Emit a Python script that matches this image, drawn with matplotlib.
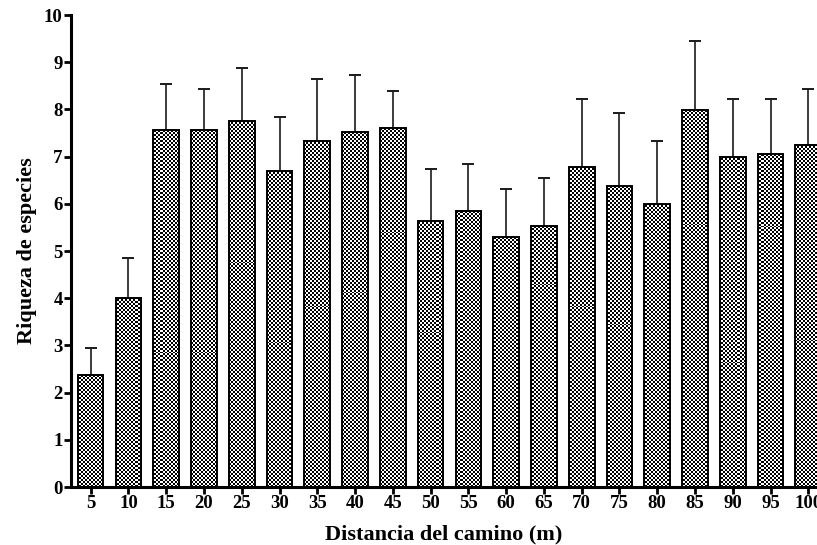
import matplotlib
matplotlib.use("Agg")
import matplotlib.pyplot as plt
import numpy as np

# distancias y riqueza media (+ error superior)
distancias = ["5", "10", "15", "20", "25", "30", "35", "40", "45", "50",
              "55", "60", "65", "70", "75", "80", "85", "90", "95", "100"]
riqueza = [2.37, 4.01, 7.56, 7.56, 7.76, 6.69, 7.32, 7.53, 7.61, 5.63,
           5.85, 5.30, 5.52, 6.77, 6.37, 6.00, 7.99, 6.99, 7.06, 7.24]
error_sup = [2.94, 4.86, 8.53, 8.43, 8.88, 7.84, 8.65, 8.73, 8.38, 6.74,
             6.84, 6.31, 6.54, 8.21, 7.93, 7.34, 9.45, 8.21, 8.21, 8.43]

plt.rcParams['font.family'] = ['Liberation Serif', 'DejaVu Serif']

fig = plt.figure(figsize=(8.17, 5.45), dpi=100)
ax = fig.add_axes([71/817, 58/545, 1 - 71/817, 472/545])

x = np.arange(len(distancias))
err = np.array(error_sup) - np.array(riqueza)

bars = ax.bar(x, riqueza, width=0.68, facecolor='none', edgecolor='black',
              linewidth=1.4, zorder=3)
ax.errorbar(x, riqueza, yerr=[np.zeros_like(err), err], fmt='none',
            ecolor='#1a1a1a', elinewidth=1.2, capsize=4.6, capthick=1.4, zorder=2)

# textura de cuadritos dentro de cada barra
cell = 2
nx, ny = 746 // cell + 1, 472 // cell + 1
chk = (np.add.outer(np.arange(ny), np.arange(nx)) % 2).astype(float)
for b in bars:
    im = ax.imshow(chk, cmap='gray', vmin=0, vmax=1, interpolation='nearest',
                   extent=[-0.52, 19.23, 0, 10], aspect='auto', zorder=2.5)
    im.set_clip_path(b)
ax.set_xlim(-0.52, 19.23)
ax.set_ylim(0, 10)

ax.set_xticks(x)
ax.set_xticklabels(distancias)
ax.set_yticks(range(0, 11))

for s in ['top', 'right']:
    ax.spines[s].set_visible(False)
for s in ['left', 'bottom']:
    ax.spines[s].set_linewidth(2.2)

ax.tick_params(axis='both', direction='out', length=5, width=2, labelsize=13.5, pad=1)
for lab in ax.get_xticklabels() + ax.get_yticklabels():
    lab.set_fontweight('bold')

ax.set_xlabel('Distancia del camino (m)', fontsize=16, fontweight='bold', labelpad=9)
ax.set_ylabel('Riqueza de especies', fontsize=16, fontweight='bold', labelpad=5)

fig.savefig('out.png', dpi=100)
